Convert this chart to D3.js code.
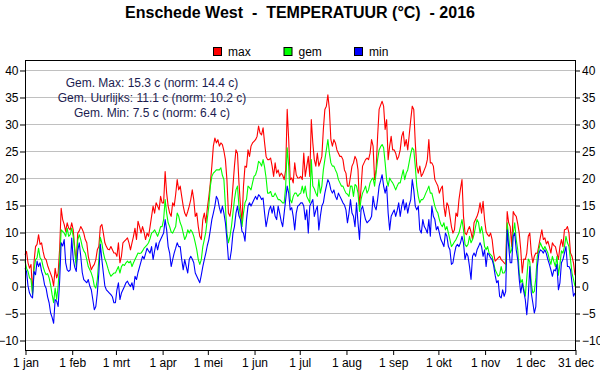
<!DOCTYPE html>
<html>
<head>
<meta charset="utf-8">
<script src="https://cdn.jsdelivr.net/npm/d3@7"></script>
<style>
  body { margin: 0; background: #fff; }
  svg { display: block; font-family: "Liberation Sans", Arial, sans-serif; }
</style>
</head>
<body>
<svg id="chart" width="600" height="390"></svg>
<script>
// daily values 2016, one line per month
const maxTemp = [
  5.8, 6.4, 4.3, 3.3, 4.0, -1.3, 4.5, 7.3, 7.7, 9.5, 7.7, 8.0, 6.4, 5.2, 4.9, 3.8, 3.0, 2.3, 1.5, 0.0, 3.3, 1.5, 2.4, 7.0, 14.4, 12.3, 11.4, 10.1, 11.7, 10.7, 10.4,
  11.7, 10.4, 7.0, 4.3, 9.8, 10.2, 11.0, 10.5, 9.8, 8.6, 8.0, 5.5, 4.3, 3.0, 3.6, 4.0, 4.9, 6.7, 7.3, 11.0, 11.4, 9.8, 8.0, 7.3, 6.8, 6.7, 7.3, 6.7, 6.1,
  6.1, 5.5, 8.0, 4.3, 5.5, 8.0, 8.3, 8.6, 8.9, 8.0, 6.7, 8.0, 9.2, 10.7, 8.6, 12.0, 11.0, 9.8, 11.0, 10.0, 8.6, 9.8, 9.2, 11.0, 12.9, 14.8, 13.5, 15.4, 14.8, 14.1, 16.6,
  15.4, 15.4, 21.2, 17.2, 14.8, 13.5, 12.9, 15.4, 14.8, 17.0, 19.7, 17.8, 18.5, 16.6, 14.8, 13.5, 12.9, 13.8, 14.8, 16.0, 17.8, 16.0, 12.9, 13.5, 11.0, 9.2, 8.6, 12.3, 13.5, 11.7,
  14.4, 16.5, 19.1, 22.2, 25.9, 27.4, 26.5, 27.1, 25.9, 26.5, 26.2, 25.0, 23.4, 19.7, 13.5, 12.9, 14.8, 18.5, 22.2, 25.2, 24.6, 19.1, 14.8, 11.7, 18.5, 22.2, 22.0, 25.2, 24.0, 25.9, 26.5,
  26.8, 27.1, 27.7, 29.6, 28.3, 28.0, 29.3, 26.5, 24.0, 23.4, 23.4, 23.7, 22.2, 20.3, 22.8, 20.9, 21.5, 20.3, 20.9, 20.5, 19.7, 21.5, 32.7, 27.1, 19.7, 20.0, 19.1, 22.8, 20.6, 20.0,
  20.0, 20.3, 19.7, 24.6, 20.3, 22.2, 24.0, 20.3, 30.8, 26.5, 23.4, 22.2, 24.6, 22.2, 23.0, 24.0, 29.0, 32.7, 33.3, 35.4, 32.7, 27.1, 25.9, 27.1, 26.5, 25.2, 24.6, 24.0, 24.0, 23.4, 21.5,
  20.9, 18.5, 18.5, 20.3, 22.2, 22.8, 24.0, 23.4, 21.5, 14.8, 18.0, 22.2, 22.8, 23.4, 23.7, 23.4, 24.6, 27.1, 25.9, 19.7, 21.5, 27.7, 32.7, 33.5, 34.2, 33.3, 29.0, 30.8, 23.4, 25.9, 27.7,
  25.2, 25.2, 24.6, 23.4, 24.0, 25.2, 27.7, 28.6, 25.9, 27.1, 25.2, 28.0, 30.8, 33.3, 32.7, 26.5, 22.2, 20.9, 22.2, 20.3, 20.8, 21.5, 22.2, 23.4, 27.1, 22.8, 22.8, 22.2, 19.7, 19.1,
  18.5, 17.2, 18.0, 18.5, 14.8, 12.9, 15.4, 14.8, 12.9, 11.0, 9.8, 10.4, 13.5, 12.9, 16.0, 18.0, 19.7, 12.9, 9.8, 9.5, 10.4, 11.0, 10.0, 8.6, 11.7, 12.3, 12.9, 13.8, 15.4, 13.5, 15.7,
  12.3, 10.1, 9.5, 9.2, 9.8, 8.6, 6.1, 4.6, 4.9, 5.2, 5.5, 4.9, 4.6, 4.3, 4.0, 13.8, 11.7, 11.0, 7.3, 13.8, 13.2, 12.9, 11.5, 9.8, 6.7, 2.4, 5.0, 4.9, 6.1, 9.2,
  9.8, 6.1, 4.3, 5.5, 6.1, 6.0, 7.5, 9.0, 10.4, 8.6, 8.9, 7.8, 8.3, 7.3, 6.1, 8.0, 7.5, 7.3, 6.1, 4.9, 7.3, 8.6, 7.3, 10.4, 10.5, 11.0, 9.8, 6.1, 5.5, 4.3, 2.0
];

const avgTemp = [
  4.6, 3.3, 2.7, 1.5, 1.2, -1.6, 3.0, 4.9, 5.2, 7.0, 5.2, 4.9, 3.6, 2.7, 2.1, 2.3, 1.5, 0.2, -1.6, -3.1, -0.4, -2.5, 0.0, 4.5, 10.4, 10.1, 9.8, 9.2, 10.7, 9.2, 9.5,
  10.7, 9.2, 6.5, 3.6, 8.5, 9.5, 8.6, 7.3, 6.5, 6.1, 4.9, 3.6, 3.0, 2.4, 1.5, 0.0, -0.4, 1.2, 4.9, 9.0, 8.0, 6.2, 5.0, 4.3, 3.3, 2.4, 1.8, 2.1, 2.4,
  2.4, 3.0, 3.6, 2.4, 3.6, 4.0, 3.8, 4.3, 4.6, 4.3, 4.6, 3.6, 4.3, 4.9, 5.5, 6.1, 6.0, 6.1, 6.5, 7.0, 7.3, 7.6, 8.0, 8.8, 9.8, 10.0, 10.4, 9.8, 9.2, 10.0, 11.0,
  11.0, 12.3, 16.0, 13.5, 11.7, 11.0, 10.0, 9.8, 10.4, 11.0, 13.5, 12.9, 11.7, 11.0, 9.8, 8.6, 9.2, 10.4, 9.8, 10.4, 10.0, 9.2, 8.0, 6.7, 4.9, 4.0, 4.9, 7.3, 8.6, 10.0,
  12.5, 14.8, 18.5, 20.3, 20.9, 21.2, 21.5, 21.5, 21.5, 21.9, 20.5, 19.7, 14.8, 9.8, 8.0, 9.2, 11.0, 13.5, 16.0, 17.8, 18.5, 14.8, 13.0, 11.0, 13.5, 15.4, 16.0, 18.5, 18.2, 17.8, 19.1,
  20.3, 20.6, 21.5, 23.1, 22.8, 22.2, 23.4, 22.0, 20.0, 17.2, 17.2, 17.5, 16.6, 16.6, 17.2, 16.6, 16.0, 16.0, 15.7, 15.4, 15.4, 18.5, 25.6, 22.2, 16.0, 15.4, 16.6, 17.2, 17.2, 16.6,
  17.0, 17.2, 18.5, 17.2, 18.5, 16.6, 16.0, 15.4, 23.4, 18.5, 18.0, 17.2, 16.6, 19.7, 17.2, 18.5, 21.5, 23.4, 25.2, 27.1, 24.6, 22.8, 22.2, 22.2, 21.5, 20.9, 19.7, 19.1, 18.5, 18.5, 17.8,
  17.2, 17.0, 16.6, 18.5, 18.5, 16.6, 18.8, 18.5, 17.2, 13.8, 16.0, 17.2, 17.8, 18.5, 17.2, 17.8, 19.1, 19.7, 20.0, 18.5, 21.0, 23.4, 25.2, 25.8, 26.2, 25.6, 22.8, 19.7, 18.5, 20.0, 19.5,
  19.1, 18.5, 17.8, 18.5, 19.1, 19.1, 20.3, 21.5, 19.7, 20.9, 21.5, 23.0, 24.5, 25.6, 25.2, 22.2, 18.5, 16.6, 15.4, 16.0, 16.0, 16.5, 17.2, 17.8, 18.5, 17.2, 17.2, 16.0, 14.8, 14.0,
  13.5, 12.3, 11.4, 11.0, 11.7, 10.4, 11.0, 9.8, 8.6, 7.3, 7.7, 8.2, 8.6, 9.2, 9.8, 11.0, 12.3, 10.4, 7.7, 7.3, 7.7, 9.2, 8.0, 8.6, 9.5, 11.0, 12.3, 11.7, 9.8, 11.0, 9.5,
  7.3, 6.7, 7.3, 6.1, 5.8, 5.5, 4.3, 3.0, 2.4, 1.8, 2.1, 3.6, 2.4, 2.4, 3.0, 11.7, 9.2, 6.1, 6.7, 9.8, 11.7, 8.6, 6.7, 2.4, 0.6, 1.2, -0.5, -1.9, 1.5, 5.0,
  4.5, 0.5, -1.3, -1.0, 1.5, 5.5, 6.7, 8.0, 7.3, 6.7, 7.3, 6.7, 6.1, 4.9, 4.0, 5.5, 4.5, 3.6, 5.5, 2.0, 4.0, 6.5, 6.1, 7.3, 9.2, 8.0, 7.3, 4.9, 2.4, 1.2, 0.0
];

const minTemp = [
  3.3, 2.7, 0.0, -1.3, -1.9, -2.2, 2.7, 2.1, 4.6, 3.6, 4.3, 2.7, 1.8, 0.2, -0.4, -2.0, -3.1, -5.0, -5.8, -6.9, -2.5, -2.8, -3.8, 1.0, 8.0, 7.4, 8.6, 4.3, 3.0, 2.7, 3.0,
  8.9, 5.0, 3.5, 2.7, 6.5, 8.0, 5.5, 2.5, 1.2, 0.9, 0.6, 1.2, 0.0, -0.7, -2.5, -4.4, -3.8, -1.3, 2.4, 7.7, 4.9, 2.4, 0.0, -0.7, -1.0, -1.3, -1.6, -2.0, -3.1,
  -3.1, -0.7, 0.6, -2.5, -1.3, -0.7, -0.1, 0.6, 0.9, 0.3, -0.1, 0.6, -0.7, 1.8, 1.2, 2.5, 3.5, 4.5, 5.5, 5.0, 6.0, 7.0, 6.5, 6.1, 7.3, 4.9, 6.5, 8.0, 6.7, 8.0, 8.6,
  9.2, 9.8, 12.3, 10.4, 7.3, 6.1, 3.6, 4.9, 6.1, 7.0, 8.0, 7.3, 7.3, 4.9, 3.0, 4.9, 3.6, 2.4, 4.9, 5.5, 5.0, 4.3, 2.4, 1.8, 1.2, 0.6, 2.0, 3.6, 4.9, 6.1,
  7.5, 8.6, 10.4, 12.3, 13.5, 14.8, 16.6, 16.0, 14.5, 13.5, 14.8, 13.5, 11.7, 8.6, 4.9, 4.9, 6.7, 9.8, 11.0, 13.5, 14.8, 13.0, 12.3, 10.1, 9.8, 8.3, 12.3, 14.8, 15.4, 14.8, 15.4,
  16.0, 16.6, 16.0, 16.9, 16.6, 16.0, 16.3, 13.5, 11.0, 12.5, 14.1, 14.8, 13.5, 14.8, 12.9, 12.3, 14.8, 13.5, 12.0, 11.0, 13.5, 16.0, 18.5, 17.2, 14.1, 14.5, 12.9, 10.4, 13.5, 14.8,
  15.0, 15.4, 15.4, 14.8, 12.3, 14.1, 9.8, 14.8, 15.4, 16.0, 12.9, 14.0, 14.8, 10.4, 12.9, 14.8, 15.4, 17.2, 18.5, 19.7, 19.1, 17.8, 17.2, 17.8, 16.6, 16.0, 17.2, 16.6, 16.0, 15.4, 15.0,
  14.1, 11.7, 13.5, 16.0, 13.5, 12.9, 11.0, 15.4, 11.7, 8.6, 14.1, 14.8, 13.5, 12.3, 11.7, 12.0, 12.3, 12.9, 16.6, 14.8, 14.1, 16.0, 18.5, 19.5, 20.6, 18.5, 17.2, 18.5, 13.5, 10.4, 12.9,
  13.5, 14.1, 12.9, 14.0, 15.4, 12.9, 14.8, 16.0, 14.1, 15.4, 13.5, 15.0, 16.0, 19.7, 17.8, 14.8, 14.1, 14.8, 10.4, 9.8, 12.3, 11.0, 10.5, 9.8, 12.3, 9.2, 14.8, 12.9, 12.3, 10.4,
  11.0, 9.8, 8.6, 8.0, 7.3, 9.8, 9.2, 7.3, 6.7, 4.0, 4.3, 6.0, 7.3, 7.7, 7.3, 8.0, 9.2, 8.0, 4.9, 6.1, 5.5, 3.6, 1.2, 5.5, 6.1, 5.5, 6.7, 7.3, 8.0, 7.3, 5.5,
  6.7, 3.6, 6.1, 5.8, 5.2, 4.9, 3.8, 2.0, 0.6, 1.0, -1.9, -2.2, -0.7, -1.9, -1.0, 10.4, 7.3, 4.3, 4.3, 9.2, 9.8, 6.7, 4.9, 1.2, -1.3, 0.5, -1.0, -2.5, -5.3, -1.9,
  3.6, -1.3, -3.1, -5.0, -3.8, 3.6, 6.0, 6.7, 6.5, 6.1, 6.7, 6.0, 4.9, 4.0, 3.0, 1.8, 3.0, 2.8, 4.0, -0.7, 0.6, 4.3, 4.9, 6.1, 7.3, 3.6, 3.6, 3.0, 0.6, -1.9, -1.3
];

const monthNames = ["jan", "feb", "mrt", "apr", "mei", "jun", "jul", "aug", "sep", "okt", "nov", "dec"];
const yTicks = [-10, -5, 0, 5, 10, 15, 20, 25, 30, 35, 40];
const statLines = [
  "Gem. Max: 15.3 c (norm: 14.4 c)",
  "Gem. Uurlijks: 11.1 c (norm: 10.2 c)",
  "Gem. Min: 7.5 c (norm: 6.4 c)"
];
const seriesNames = ["max", "gem", "min"];
const seriesColors = ["#ff0000", "#00ff00", "#0000ff"];

const svg = d3.select("#chart");
const plotLeft = 25, plotRight = 575, plotTop = 60, plotBottom = 350;

const day0 = new Date(2016, 0, 1);
const dayDate = i => d3.timeDay.offset(day0, i);

const x = d3.scaleTime()
    .domain([day0, new Date(2016, 11, 31)])
    .range([plotLeft, plotRight]);
const y = d3.scaleLinear()
    .domain([-11.85, 41.85])
    .range([plotBottom, plotTop]);

// title
svg.append("text")
    .attr("x", 300).attr("y", 18)
    .attr("text-anchor", "middle")
    .attr("font-size", 16).attr("font-weight", "bold")
    .style("white-space", "pre")
    .text("Enschede West  -  TEMPERATUUR (°C)  - 2016");

// legend
const legend = svg.append("g").selectAll("g")
    .data(seriesNames)
    .enter().append("g")
    .attr("transform", (d, i) => `translate(${213 + i * 70.5},47)`);
legend.append("rect")
    .attr("x", 0.5).attr("y", 0.5).attr("width", 8).attr("height", 8)
    .attr("fill", (d, i) => seriesColors[i])
    .attr("stroke", "#000");
legend.append("text")
    .attr("x", 15).attr("y", 9)
    .attr("font-size", 12)
    .text(d => d);

// grid
svg.append("g").selectAll("line")
    .data(yTicks)
    .enter().append("line")
    .attr("x1", plotLeft).attr("x2", plotRight)
    .attr("y1", d => Math.round(y(d)) + 0.5).attr("y2", d => Math.round(y(d)) + 0.5)
    .attr("stroke", "#c0c0c0");

// axes
const styleAxis = g => {
    g.select(".domain").remove();
    g.attr("font-size", 12).attr("font-family", null);
    g.selectAll("line").attr("stroke", "#000");
    g.selectAll("text").attr("fill", "#000");
};
svg.append("g")
    .attr("transform", `translate(${plotLeft},0.5)`)
    .call(d3.axisLeft(y).tickValues(yTicks).tickSize(5).tickPadding(1.5))
    .call(styleAxis);
svg.append("g")
    .attr("transform", `translate(${plotRight},0.5)`)
    .call(d3.axisRight(y).tickValues(yTicks).tickSize(5).tickPadding(2))
    .call(styleAxis);

const tickDates = monthNames.map((m, i) => new Date(2016, i, 1)).concat([new Date(2016, 11, 31)]);
const tickLabels = monthNames.map(m => "1 " + m).concat(["31 dec"]);
svg.append("g")
    .attr("transform", `translate(0.5,${plotBottom})`)
    .call(d3.axisBottom(x).tickValues(tickDates).tickFormat((d, i) => tickLabels[i]).tickSize(5).tickPadding(3))
    .call(styleAxis);

// series lines
const line = d3.line()
    .x((d, i) => x(dayDate(i)))
    .y(d => y(d));
svg.append("g").selectAll("path")
    .data([maxTemp, avgTemp, minTemp])
    .enter().append("path")
    .attr("d", line)
    .attr("fill", "none")
    .attr("stroke", (d, i) => seriesColors[i])
    .attr("stroke-width", 1.1)
    .attr("stroke-linejoin", "round");

// frame
svg.append("rect")
    .attr("x", plotLeft + 0.5).attr("y", plotTop + 0.5)
    .attr("width", plotRight - plotLeft).attr("height", plotBottom - plotTop)
    .attr("fill", "none")
    .attr("stroke", "#000");

// averages text
svg.append("g").selectAll("text")
    .data(statLines)
    .enter().append("text")
    .attr("x", 152).attr("y", (d, i) => 87 + i * 15)
    .attr("text-anchor", "middle")
    .attr("font-size", 12)
    .attr("fill", "#1c1c50")
    .text(d => d);
</script>
</body>
</html>
